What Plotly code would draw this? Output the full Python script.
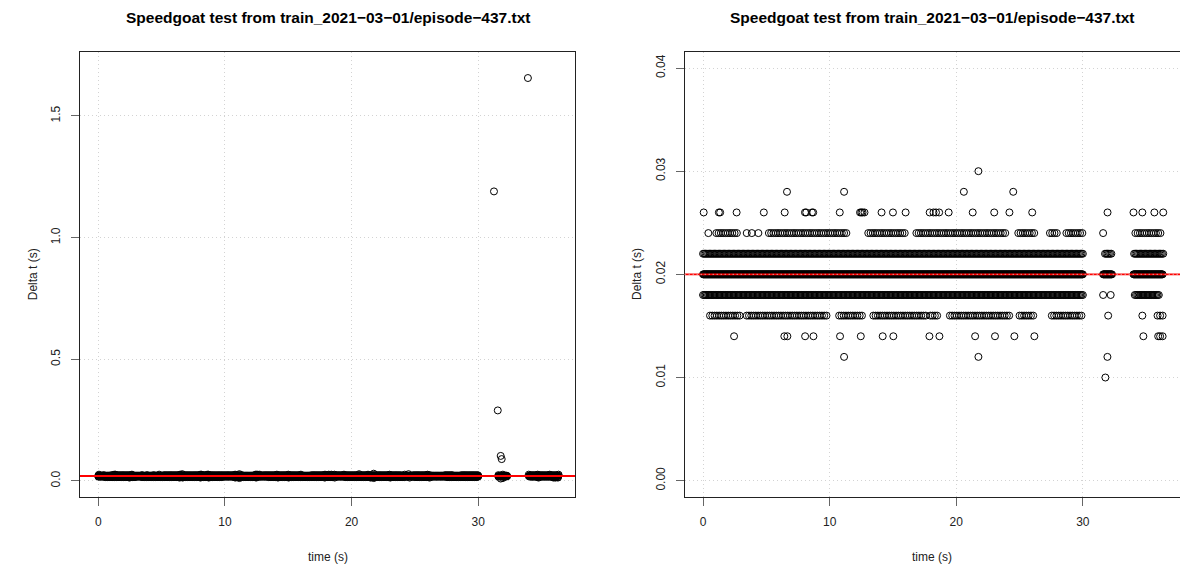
import numpy as np
import plotly.graph_objects as go

# ---------------- data ----------------
title_text = "Speedgoat test from train_2021\u221203\u221201/episode\u2212437.txt"
x_label = "time (s)"
y_label = "Delta t (s)"

# Dense delta-t bands: runs of consecutive samples (start s, end s) and the typical
# spacing between samples inside a run
runs_016 = [(0.55, 2.9), (3.45, 9.75), (10.75, 12.65), (13.45, 17.6), (17.95, 18.5),
            (19.5, 24.25), (25.0, 26.25), (27.55, 29.9)]
step_016 = 0.18
runs_018 = [(0.0, 30.0), (34.1, 36.0)]
step_018 = 0.1
runs_020 = [(0.0, 30.0), (31.6, 32.3), (34.0, 36.3)]
step_020 = 0.05
runs_022 = [(0.0, 30.0), (31.75, 32.25), (34.05, 36.35)]
step_022 = 0.1
runs_024 = [(1.05, 2.8), (5.2, 11.35), (13.05, 15.95), (16.85, 24.0), (24.9, 26.25),
            (27.4, 27.95), (28.7, 30.0), (34.15, 36.25)]
step_024 = 0.18

# Isolated samples per delta-t level (times in s)
t_010 = [31.78]
t_012 = [11.14, 21.75, 31.94]
t_014 = [2.45, 6.42, 6.66, 8.06, 8.72, 10.82, 12.46, 14.19, 15.03, 17.88, 18.67,
         21.49, 23.06, 24.59, 26.17, 34.78, 35.95, 36.1, 36.3]
t_016 = [32.0, 34.7, 35.9, 36.1, 36.3]
t_018 = [31.6, 32.2]
t_024 = [0.42, 3.45, 3.85, 4.37, 31.6]
t_026 = [0.05, 1.25, 1.35, 2.65, 4.8, 6.45, 8.05, 8.15, 8.6, 8.7, 10.8, 12.4, 12.5,
         12.6, 12.75, 14.1, 15.0, 16.0, 17.9, 18.2, 18.4, 18.65, 19.4, 21.3, 23.0,
         24.2, 26.0, 31.95, 34.0, 34.7, 35.65, 36.35]
t_028 = [6.63, 11.14, 20.6, 24.5]
t_030 = [21.75]

# Large gaps (outliers)
t_out = [31.25, 31.55, 31.78, 31.86, 33.93]
dt_out = [1.19, 0.29, 0.103, 0.090, 1.656]

nominal_dt = 0.02

x_ticks = [0, 10, 20, 30]
y1_ticks = [0.0, 0.5, 1.0, 1.5]
y1_ticktext = ["0.0", "0.5", "1.0", "1.5"]
y2_ticks = [0.00, 0.01, 0.02, 0.03, 0.04]
y2_ticktext = ["0.00", "0.01", "0.02", "0.03", "0.04"]


# ---------------- assemble samples ----------------
def expand(runs, step):
    out = []
    for a, b in runs:
        out.extend(np.arange(a, b + 1e-9, step).tolist())
    return out


t_all, dt_all = [], []


def add(ts, level):
    t_all.extend(ts)
    dt_all.extend([level] * len(ts))


add(expand(runs_016, step_016), 0.016)
add(expand(runs_018, step_018), 0.018)
add(expand(runs_020, step_020), 0.020)
add(expand(runs_022, step_022), 0.022)
add(expand(runs_024, step_024), 0.024)
add(t_010, 0.010)
add(t_012, 0.012)
add(t_014, 0.014)
add(t_016, 0.016)
add(t_018, 0.018)
add(t_024, 0.024)
add(t_026, 0.026)
add(t_028, 0.028)
add(t_030, 0.030)
t_all.extend(t_out)
dt_all.extend(dt_out)

# ---------------- figure ----------------
W, H = 1180, 570
FONT = "Liberation Sans, Arial, Helvetica, sans-serif"

box_top, box_bot = 51.5, 497.0
L1, R1 = 80.0, 575.0
L2, R2 = 684.7, 1180.0

ydom = [1 - box_bot / H, 1 - box_top / H]

fig = go.Figure()
marker = dict(symbol="circle-open", size=7, color="black", line=dict(width=1, color="black"))
fig.add_trace(go.Scatter(x=t_all, y=dt_all, mode="markers", marker=marker,
                         xaxis="x", yaxis="y", showlegend=False, hoverinfo="skip"))
fig.add_trace(go.Scatter(x=t_all, y=dt_all, mode="markers", marker=marker,
                         xaxis="x2", yaxis="y2", showlegend=False, hoverinfo="skip"))

GRID = "#d3d3d3"
GDASH = "1px,3px"
axis_common = dict(
    ticks="outside", ticklen=8, tickcolor="#666", tickwidth=1,
    showline=True, linecolor="#222", linewidth=1,
    showgrid=True, gridcolor=GRID, griddash=GDASH, gridwidth=1,
    zeroline=False, tickfont=dict(family=FONT, size=12, color="#222"),
)
xr = [-1.45, 37.65]
fig.update_layout(
    width=W, height=H,
    margin=dict(l=0, r=0, t=0, b=0),
    paper_bgcolor="white", plot_bgcolor="white",
    xaxis=dict(domain=[L1 / W, R1 / W], range=xr, tickvals=x_ticks, mirror=True,
               anchor="y", ticklabelstandoff=6, **axis_common),
    yaxis=dict(domain=ydom, range=[-0.0658, 1.765], tickvals=y1_ticks, ticktext=y1_ticktext,
               tickangle=-90, mirror=True, anchor="x", ticklabelstandoff=6, **axis_common),
    xaxis2=dict(domain=[L2 / W, R2 / W], range=[-1.45, -1.45 + (R2 - L2) * (39.1 / 495.0)],
                tickvals=x_ticks, mirror=True, anchor="y2", ticklabelstandoff=6, **axis_common),
    yaxis2=dict(domain=ydom, range=[-0.00158, 0.0416], tickvals=y2_ticks, ticktext=y2_ticktext,
                tickangle=-90, mirror=False, anchor="x2", ticklabelstandoff=6, **axis_common),
)

# reference line at the nominal step
fig.add_shape(type="line", xref="x domain", yref="y", x0=0, x1=1, y0=nominal_dt, y1=nominal_dt,
              line=dict(color="red", width=2))
fig.add_shape(type="line", xref="x2 domain", yref="y2", x0=0, x1=1, y0=nominal_dt, y1=nominal_dt,
              line=dict(color="red", width=1.6))
fig.add_shape(type="line", xref="x2 domain", yref="y2", x0=0, x1=1, y0=nominal_dt, y1=nominal_dt,
              line=dict(color=GRID, width=1, dash=GDASH))

# titles and axis labels
for (l, r) in [(L1, R1), (L2, R2)]:
    cx = (l + r) / 2 / W
    fig.add_annotation(text="<b>" + title_text + "</b>", x=cx, y=1 - 18 / H, xref="paper", yref="paper",
                       showarrow=False, xanchor="center", yanchor="middle",
                       font=dict(family=FONT, size=15.5, color="black"))
    fig.add_annotation(text=x_label, x=cx, y=1 - 557 / H, xref="paper", yref="paper",
                       showarrow=False, xanchor="center", yanchor="middle",
                       font=dict(family=FONT, size=12, color="#222"))
    fig.add_annotation(text=y_label, x=(l - 47) / W, y=1 - ((box_top + box_bot) / 2) / H,
                       xref="paper", yref="paper", textangle=-90,
                       showarrow=False, xanchor="center", yanchor="middle",
                       font=dict(family=FONT, size=12, color="#222"))

fig.write_html("out.html")
